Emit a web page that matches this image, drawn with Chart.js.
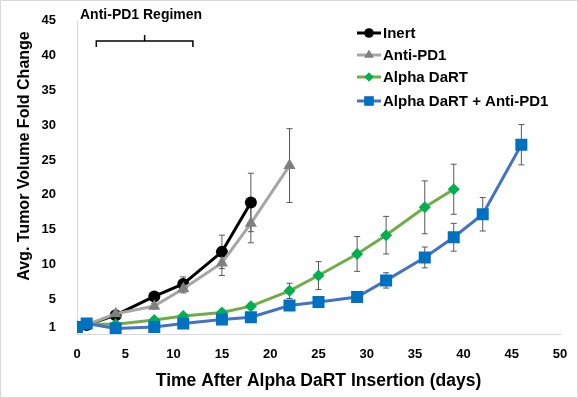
<!DOCTYPE html>
<html>
<head>
<meta charset="utf-8">
<script src="https://cdn.jsdelivr.net/npm/chart.js@4.4.1/dist/chart.umd.min.js"></script>
<style>
  body { margin: 0; background: #fff; }
  #wrap { position: relative; width: 578px; height: 398px; }
  #frame { position: absolute; left: 0; top: 0; width: 578px; height: 398px; box-sizing: border-box; border: 1px solid #d9d9d9; pointer-events: none; }
</style>
</head>
<body>
<div id="wrap">
  <canvas id="tumorChart" width="578" height="398"></canvas>
  <div id="frame"></div>
</div>
<script>
// --- data ---
var inertDays = [0, 1, 4, 8, 11, 15, 18];
var inertMean = [1, 1.3, 2.7, 5.4, 7.2, 11.8, 18.9];
var inertErr  = [0, 0.2, 0.3, 0.5, 1.0, 2.4, 4.2];

var pd1Days = [0, 1, 4, 8, 11, 15, 18, 22];
var pd1Mean = [1, 1.3, 2.9, 4.0, 6.5, 10.2, 15.9, 24.2];
var pd1Err  = [0, 0.2, 0.3, 0.4, 0.6, 1.8, 2.8, 5.3];

var dartDays = [0, 1, 4, 8, 11, 15, 18, 22, 25, 29, 32, 36, 39];
var dartMean = [1, 1.4, 1.4, 2.0, 2.6, 3.1, 4.0, 6.2, 8.4, 11.5, 14.2, 18.2, 20.8];
var dartErr  = [0, 0.1, 0.2, 0.2, 0.3, 0.3, 0.4, 1.1, 2.0, 2.5, 2.7, 3.8, 3.6];

var comboDays = [0, 1, 4, 8, 11, 15, 18, 22, 25, 29, 32, 36, 39, 42, 46];
var comboMean = [1, 1.5, 0.8, 1.0, 1.5, 2.1, 2.4, 4.1, 4.6, 5.3, 7.7, 11.0, 13.9, 17.2, 27.2];
var comboErr  = [0, 0.1, 0.1, 0.1, 0.2, 0.2, 0.3, 0.6, 0.5, 0.7, 1.1, 1.5, 2.0, 2.4, 2.9];

var seriesNames = ['Inert', 'Anti-PD1', 'Alpha DaRT', 'Alpha DaRT + Anti-PD1'];
var yTicks = [1, 5, 10, 15, 20, 25, 30, 35, 40, 45];
var regimenDays = [2, 12];

function toPoints(days, mean, err) {
    return days.map(function (d, i) { return { x: d, y: mean[i], e: err[i] }; });
}

var FONT = 'Liberation Sans, Arial, sans-serif';

// error bars, drawn under the markers
var errorBars = {
    id: 'errorBars',
    beforeDatasetsDraw: function (chart) {
        var ctx = chart.ctx, ys = chart.scales.y;
        ctx.save();
        ctx.strokeStyle = '#595959';
        ctx.lineWidth = 1;
        chart.data.datasets.forEach(function (ds, di) {
            var meta = chart.getDatasetMeta(di);
            ds.data.forEach(function (p, i) {
                if (!p.e) return;
                var px = meta.data[i].x;
                var top = ys.getPixelForValue(p.y + p.e);
                var bot = ys.getPixelForValue(p.y - p.e);
                ctx.beginPath();
                ctx.moveTo(px, top); ctx.lineTo(px, bot);
                ctx.moveTo(px - 3, top); ctx.lineTo(px + 3, top);
                ctx.moveTo(px - 3, bot); ctx.lineTo(px + 3, bot);
                ctx.stroke();
            });
        });
        ctx.restore();
    }
};

// legend (line + marker), y title and the regimen bracket
var extras = {
    id: 'extras',
    afterDraw: function (chart) {
        var ctx = chart.ctx, xs = chart.scales.x;
        ctx.save();
        var rows = [33, 55, 77, 101];
        chart.data.datasets.forEach(function (ds, i) {
            var y = rows[i];
            ctx.strokeStyle = ds.borderColor;
            ctx.lineWidth = 3;
            ctx.beginPath();
            ctx.moveTo(357, y); ctx.lineTo(381, y);
            ctx.stroke();
            ctx.fillStyle = ds.pointBackgroundColor;
            Chart.helpers.drawPoint(ctx, {
                pointStyle: ds.pointStyle,
                radius: ds.pointRadius * 0.8,
                rotation: 0,
                borderWidth: 0
            }, 369, y);
            ctx.fillStyle = '#000';
            ctx.font = 'bold 15px ' + FONT;
            ctx.textAlign = 'left';
            ctx.textBaseline = 'middle';
            ctx.fillText(ds.label, 383, y + 1);
        });

        // y axis title, placed like the original (above plot centre)
        ctx.save();
        ctx.translate(25, 156);
        ctx.rotate(-Math.PI / 2);
        ctx.font = 'bold 16px ' + FONT;
        ctx.textAlign = 'center';
        ctx.textBaseline = 'middle';
        ctx.fillText('Avg. Tumor Volume Fold Change', 0, 0);
        ctx.restore();

        // Anti-PD1 regimen bracket
        var x1 = xs.getPixelForValue(regimenDays[0]);
        var x2 = xs.getPixelForValue(regimenDays[1]);
        var xm = (x1 + x2) / 2;
        ctx.strokeStyle = '#000';
        ctx.lineWidth = 1.5;
        ctx.beginPath();
        ctx.moveTo(x1, 47); ctx.lineTo(x1, 41); ctx.lineTo(x2, 41); ctx.lineTo(x2, 47);
        ctx.moveTo(xm, 41); ctx.lineTo(xm, 35);
        ctx.stroke();
        ctx.fillStyle = '#000';
        ctx.font = 'bold 14px ' + FONT;
        ctx.textAlign = 'left';
        ctx.textBaseline = 'middle';
        ctx.fillText('Anti-PD1 Regimen', 80, 15);
        ctx.restore();
    }
};

new Chart(document.getElementById('tumorChart').getContext('2d'), {
    type: 'line',
    data: {
        datasets: [{
            label: seriesNames[0],
            data: toPoints(inertDays, inertMean, inertErr),
            borderColor: '#000000',
            pointBackgroundColor: '#000000',
            pointStyle: 'circle',
            pointRadius: 6,
            order: 4
        }, {
            label: seriesNames[1],
            data: toPoints(pd1Days, pd1Mean, pd1Err),
            borderColor: '#a6a6a6',
            pointBackgroundColor: '#7f7f7f',
            pointStyle: 'triangle',
            pointRadius: 7,
            order: 3
        }, {
            label: seriesNames[2],
            data: toPoints(dartDays, dartMean, dartErr),
            borderColor: '#70ad47',
            pointBackgroundColor: '#00b050',
            pointStyle: 'rectRot',
            pointRadius: 6,
            order: 2
        }, {
            label: seriesNames[3],
            data: toPoints(comboDays, comboMean, comboErr),
            borderColor: '#4472c4',
            pointBackgroundColor: '#0070c0',
            pointStyle: 'rect',
            pointRadius: 8.5,
            order: 1
        }]
    },
    options: {
        responsive: false,
        animation: false,
        layout: { padding: { top: 18, right: 18, left: 0, bottom: 0 } },
        elements: {
            line: { borderWidth: 3, tension: 0 },
            point: { borderWidth: 0, hoverRadius: 6 }
        },
        plugins: {
            legend: { display: false },
            tooltip: { enabled: false }
        },
        scales: {
            x: {
                type: 'linear',
                min: 0,
                max: 50,
                grid: { display: false },
                border: { display: true, color: '#d9d9d9', width: 1 },
                ticks: {
                    stepSize: 5,
                    padding: 5,
                    color: '#000',
                    font: { family: FONT, size: 13, weight: 'bold' }
                },
                title: {
                    display: true,
                    text: 'Time After Alpha DaRT Insertion (days)',
                    color: '#000',
                    padding: { top: 0, bottom: 6 },
                    font: { family: FONT, size: 17.5, weight: 'bold' }
                },
                afterFit: function (scale) { scale.height = 64; }
            },
            y: {
                min: 0,
                max: 45,
                grid: { display: false },
                border: { display: true, color: '#d9d9d9', width: 1 },
                afterBuildTicks: function (scale) {
                    scale.ticks = yTicks.map(function (v) { return { value: v }; });
                },
                ticks: {
                    padding: 13,
                    color: '#000',
                    font: { family: FONT, size: 13, weight: 'bold' }
                },
                afterFit: function (scale) { scale.width = 77; }
            }
        }
    },
    plugins: [errorBars, extras]
});
</script>
</body>
</html>
